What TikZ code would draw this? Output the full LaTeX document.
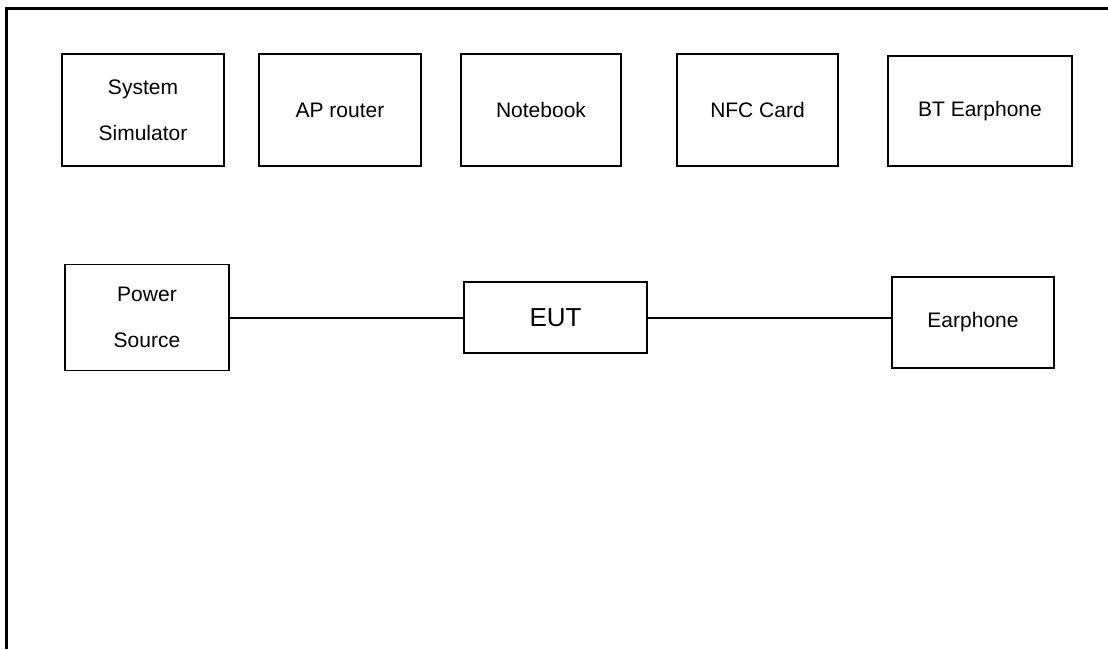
\documentclass[tikz,border=0pt]{standalone}
\usepackage{fontspec}
\setmainfont{Liberation Sans}

\tikzset{unit box/.style 2 args={
    	draw, line width=1.1pt,
    	minimum width=#1pt, minimum height=#2pt,
    	inner sep=0pt, align=center,
    	font=\fontsize{21}{46}\selectfont
  	},
  	cable/.style={line width=2pt}
}

\begin{document}
\begin{tikzpicture}[x=1pt, y=-1pt]
  		\useasboundingbox (0,0) rectangle (1108,649);
		% frame (only top and left edges show)
		\draw [line width=3pt] (6,649) -- (6,8) -- (1108,8);
		% support units
		\node [unit box={162}{112}] (sim) at (143,110) {System\\Simulator};
		\node [unit box={162}{112}] (ap) at (340,110) {AP router};
		\node [unit box={160}{112}] (nb) at (541,110) {Notebook};
		\node [unit box={161}{112}] (nfc) at (757.5,110) {NFC Card};
		\node [unit box={184}{110}] (bt) at (980,111) {BT Earphone};
		% test setup
		\node [unit box={164}{106}] (pwr) at (147,317.5) {Power\\Source};
		\node [unit box={183}{71}, font=\fontsize{26}{30}\selectfont] (eut) at (555.5,317.5) {EUT};
		\node [unit box={162}{91}] (earph) at (973,322.5) {Earphone};
		\draw [cable] (pwr.east) -- (eut.west);
		\draw [cable] (eut.east) -- (eut.east -| earph.west);
	\end{tikzpicture}
\end{document}
